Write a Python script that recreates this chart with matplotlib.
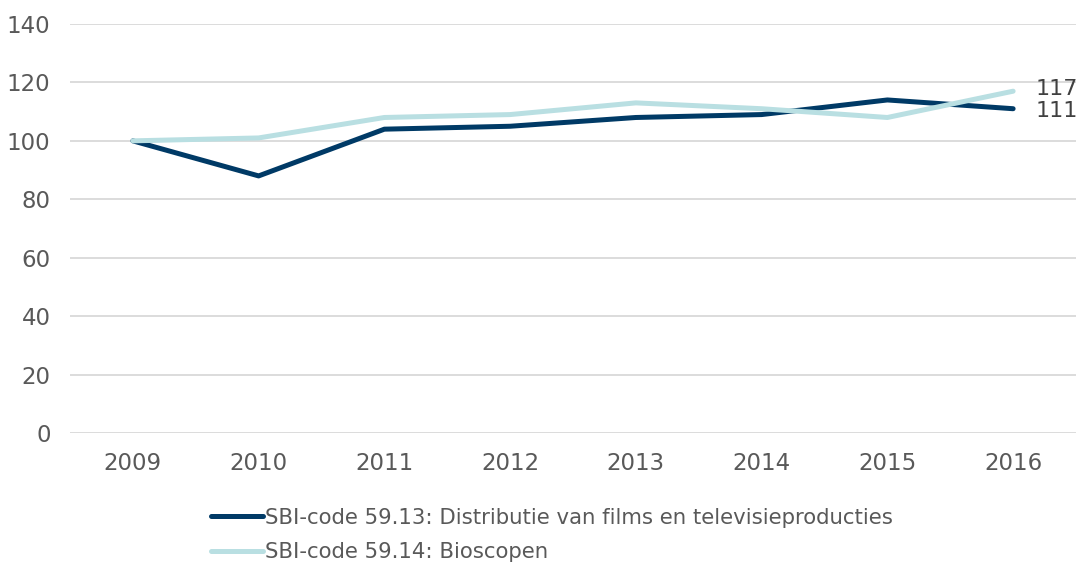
import matplotlib.pyplot as plt
import numpy as np

# Data.
years = ['2009', '2010', '2011', '2012', '2013', '2014', '2015', '2016']
distributie = [100, 88, 104, 105, 108, 109, 114, 111]
bioscopen = [100, 101, 108, 109, 113, 111, 108, 117]
y_ticks = [0, 20, 40, 60, 80, 100, 120, 140]

label_distributie = 'SBI-code 59.13: Distributie van films en televisieproducties'
label_bioscopen = 'SBI-code 59.14: Bioscopen'

dark_blue = '#003a66'
light_blue = '#b9dfe2'
text_grey = '#595959'

plt.rcParams['font.family'] = ['DejaVu Sans']

fig = plt.figure(figsize=(10.83, 5.66), dpi=100)
ax = fig.add_axes([70 / 1083, 1 - 433 / 566, 1006 / 1083, 409 / 566])

x = np.arange(len(years))
ax.plot(x, distributie, color=dark_blue, lw=3.6, solid_capstyle='round',
        label=label_distributie, zorder=3)
ax.plot(x, bioscopen, color=light_blue, lw=3.6, solid_capstyle='round',
        label=label_bioscopen, zorder=3)

# End labels (pushed slightly apart so they don't collide).
ax.annotate(str(bioscopen[-1]), (x[-1], bioscopen[-1]), xytext=(16, 1.5),
            textcoords='offset points', va='center', ha='left',
            fontsize=16, color='#404040', annotation_clip=False)
ax.annotate(str(distributie[-1]), (x[-1], distributie[-1]), xytext=(16, -1.5),
            textcoords='offset points', va='center', ha='left',
            fontsize=16, color='#404040', annotation_clip=False)

ax.set_xlim(-0.5, len(years) - 0.5)
ax.set_ylim(0, 140)
ax.set_xticks(x)
ax.set_xticklabels(years)
ax.set_yticks(y_ticks)
ax.tick_params(axis='both', length=0, labelsize=16.5, colors=text_grey)
ax.tick_params(axis='x', pad=14)
ax.tick_params(axis='y', pad=14)
ax.yaxis.grid(True, color='#d9d9d9', lw=1.3)
ax.set_axisbelow(True)
for spine in ax.spines.values():
    spine.set_visible(False)

leg = fig.legend(loc='upper left', bbox_to_anchor=(203 / 1083, 1 - 499 / 566),
                 frameon=False, fontsize=15.3, handlelength=2.4, handletextpad=0.1,
                 labelspacing=0.68, borderaxespad=0)
for text in leg.get_texts():
    text.set_color(text_grey)

fig.savefig('out.png', dpi=100)
